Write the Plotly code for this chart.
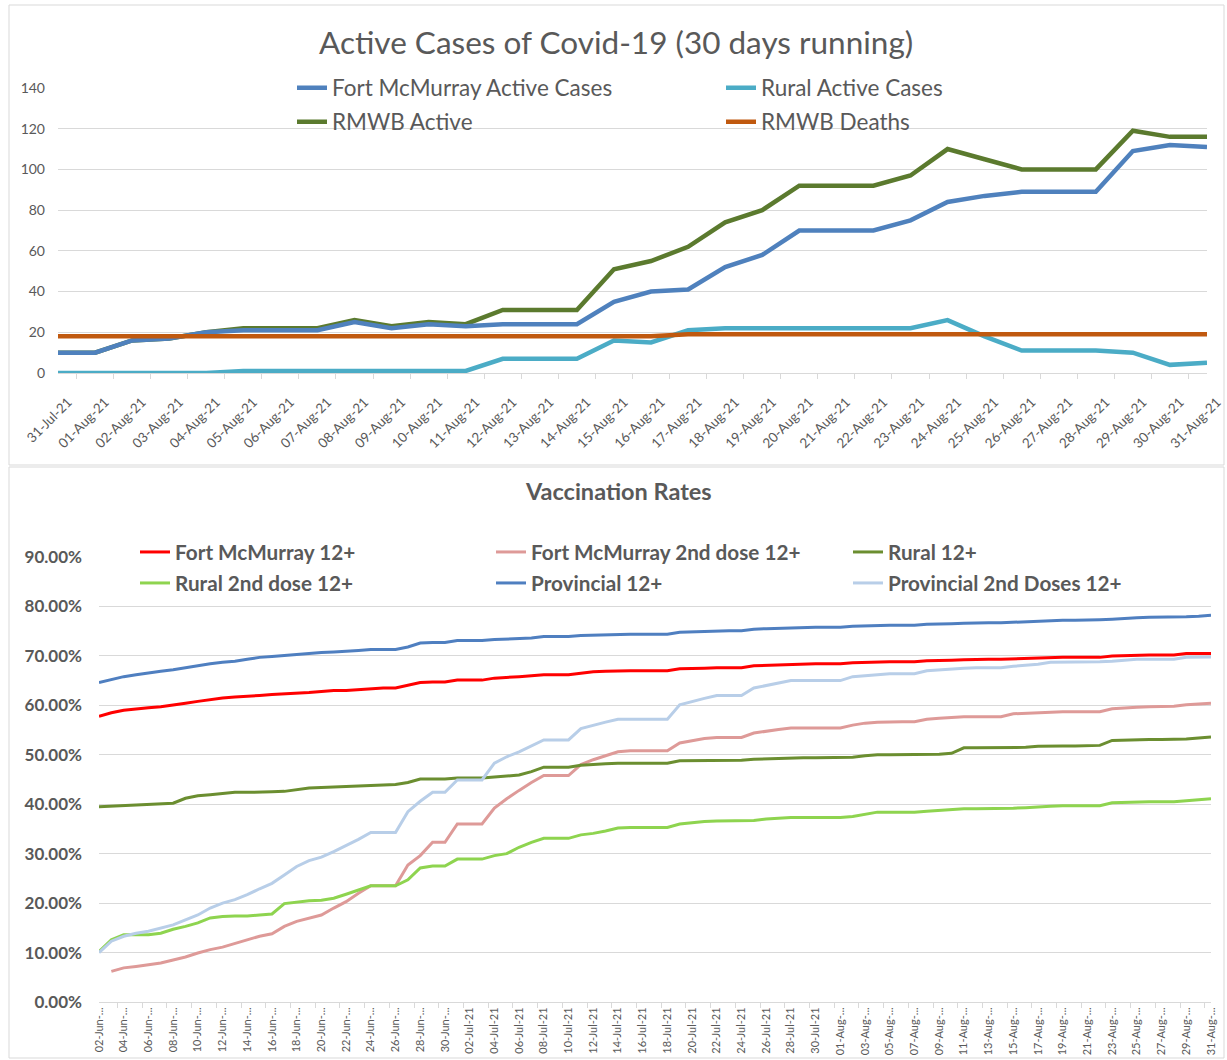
import datetime as dt
import plotly.graph_objects as go

W, H = 1227, 1060
FONT = "Lato"
GREY = "#595959"
GRID = "#D9D9D9"

# ---------------- Top chart data ----------------
top_dates = [(dt.date(2021, 7, 31) + dt.timedelta(days=k)).strftime("%d-%b-%y") for k in range(32)]
fm_active = [10, 10, 16, 17, 20, 21, 21, 21, 25, 22, 24, 23, 24, 24, 24, 35,
             40, 41, 52, 58, 70, 70, 70, 75, 84, 87, 89, 89, 89, 109, 112, 111]
rural_active = [0, 0, 0, 0, 0, 1, 1, 1, 1, 1, 1, 1, 7, 7, 7, 16,
                15, 21, 22, 22, 22, 22, 22, 22, 26, 18, 11, 11, 11, 10, 4, 5]
rmwb_active = [10, 10, 16, 17, 20, 22, 22, 22, 26, 23, 25, 24, 31, 31, 31, 51,
               55, 62, 74, 80, 92, 92, 92, 97, 110, 105, 100, 100, 100, 119, 116, 116]
rmwb_deaths = [18, 18, 18, 18, 18, 18, 18, 18, 18, 18, 18, 18, 18, 18, 18, 18,
               18, 19, 19, 19, 19, 19, 19, 19, 19, 19, 19, 19, 19, 19, 19, 19]
top_yticks = [0, 20, 40, 60, 80, 100, 120, 140]

# ---------------- Bottom chart data ----------------
vac_dates = [(dt.date(2021, 6, 2) + dt.timedelta(days=k)).strftime("%d-%b-%y") for k in range(91)]
vac_tick_dates = vac_dates[::2]
vac_tick_text = [d[:7] + "..." if ("Jun" in d or "Aug" in d) else d for d in vac_tick_dates]

prov_12 = [64.6, 65.2, 65.8, 66.2, 66.6, 66.9, 67.2, 67.6, 68.1, 68.4, 68.7, 68.9, 69.3, 69.7, 69.9, 70.1,
           70.4, 70.6, 70.7, 70.8, 70.9, 71.1, 71.3, 71.3, 71.3, 71.8, 72.6, 72.7, 72.7, 73.1, 73.1, 73.1,
           73.3, 73.4, 73.5, 73.6, 73.9, 73.9, 73.9, 74.1, 74.2, 74.3, 74.4, 74.4, 74.4, 74.4, 74.4, 74.8,
           74.9, 75.0, 75.1, 75.1, 75.1, 75.4, 75.5, 75.6, 75.7, 75.8, 75.8, 75.8, 75.8, 76.0, 76.1, 76.2,
           76.2, 76.2, 76.2, 76.4, 76.4, 76.5, 76.6, 76.7, 76.7, 76.7, 76.8, 76.9, 77.0, 77.2, 77.2, 77.2,
           77.2, 77.3, 77.4, 77.6, 77.7, 77.8, 77.8, 77.8, 77.9, 78.0, 78.2]
fm_12 = [57.8, 58.5, 59.0, 59.3, 59.5, 59.7, 60.0, 60.4, 60.8, 61.2, 61.5, 61.7, 61.8, 62.0, 62.2, 62.3,
         62.5, 62.6, 62.8, 63.0, 63.0, 63.2, 63.4, 63.5, 63.5, 64.0, 64.6, 64.7, 64.7, 65.1, 65.1, 65.1,
         65.5, 65.6, 65.8, 66.0, 66.2, 66.2, 66.2, 66.5, 66.8, 66.9, 67.0, 67.0, 67.0, 67.0, 67.0, 67.4,
         67.4, 67.5, 67.6, 67.6, 67.6, 68.0, 68.1, 68.2, 68.3, 68.4, 68.4, 68.4, 68.4, 68.6, 68.7, 68.8,
         68.8, 68.8, 68.8, 69.0, 69.0, 69.1, 69.2, 69.3, 69.3, 69.3, 69.4, 69.5, 69.6, 69.7, 69.7, 69.7,
         69.7, 69.7, 70.0, 70.1, 70.1, 70.2, 70.2, 70.2, 70.5, 70.5, 70.5]
prov_2nd = [10.0, 12.3, 13.3, 13.9, 14.3, 14.9, 15.6, 16.6, 17.6, 19.0, 20.0, 20.7, 21.7, 22.9, 24.0, 25.7,
            27.4, 28.6, 29.3, 30.4, 31.6, 32.9, 34.3, 34.3, 34.3, 38.5, 40.6, 42.4, 42.4, 44.9, 44.9, 44.9,
            48.3, 49.6, 50.6, 51.8, 53.0, 53.0, 53.0, 55.3, 56.0, 56.6, 57.2, 57.2, 57.2, 57.2, 57.2, 60.1,
            60.8, 61.4, 62.0, 62.0, 62.0, 63.5, 64.0, 64.5, 65.0, 65.0, 65.0, 65.0, 65.0, 65.8, 66.0, 66.3,
            66.4, 66.4, 66.4, 67.0, 67.2, 67.4, 67.5, 67.6, 67.6, 67.6, 67.9, 68.1, 68.3, 68.7, 68.7, 68.7,
            68.7, 68.8, 68.9, 69.1, 69.3, 69.3, 69.3, 69.3, 69.7, 69.7, 69.8]
fm_2nd = [None, 6.2, 6.9, 7.2, 7.5, 7.9, 8.5, 9.1, 9.9, 10.6, 11.1, 11.8, 12.6, 13.3, 13.8, 15.3,
          16.3, 17.0, 17.6, 19.0, 20.3, 22.0, 23.5, 23.5, 23.5, 27.7, 29.6, 32.3, 32.3, 36.0, 36.0, 36.0,
          39.2, 41.1, 42.8, 44.4, 45.8, 45.8, 45.8, 48.0, 49.0, 49.8, 50.6, 50.8, 50.8, 50.8, 50.8, 52.4,
          52.9, 53.3, 53.5, 53.5, 53.5, 54.4, 54.8, 55.1, 55.4, 55.4, 55.4, 55.4, 55.4, 56.0, 56.4, 56.6,
          56.7, 56.7, 56.7, 57.2, 57.4, 57.6, 57.7, 57.7, 57.7, 57.7, 58.3, 58.4, 58.5, 58.7, 58.7, 58.7,
          58.7, 58.7, 59.3, 59.5, 59.6, 59.7, 59.8, 59.8, 60.1, 60.2, 60.4]
rural_12 = [39.5, 39.6, 39.7, 39.8, 39.9, 40.0, 40.2, 41.2, 41.7, 41.9, 42.2, 42.4, 42.4, 42.4, 42.5, 42.6,
            43.0, 43.3, 43.4, 43.5, 43.6, 43.7, 43.9, 44.0, 44.0, 44.4, 45.1, 45.1, 45.1, 45.3, 45.3, 45.3,
            45.5, 45.7, 45.9, 46.6, 47.5, 47.5, 47.5, 47.9, 48.1, 48.2, 48.3, 48.3, 48.3, 48.3, 48.3, 48.8,
            48.8, 48.8, 48.9, 48.9, 48.9, 49.1, 49.2, 49.3, 49.4, 49.4, 49.4, 49.4, 49.4, 49.5, 49.8, 50.0,
            50.0, 50.0, 50.0, 50.0, 50.1, 50.3, 51.4, 51.4, 51.4, 51.4, 51.4, 51.5, 51.7, 51.8, 51.8, 51.8,
            51.8, 51.9, 52.9, 53.0, 53.1, 53.1, 53.1, 53.1, 53.2, 53.4, 53.6]
rural_2nd = [10.2, 12.6, 13.6, 13.6, 13.6, 13.9, 14.7, 15.3, 16.0, 17.0, 17.3, 17.4, 17.4, 17.6, 17.8, 19.9,
             20.2, 20.5, 20.6, 21.0, 21.8, 22.7, 23.5, 23.5, 23.5, 24.7, 27.1, 27.5, 27.5, 28.9, 28.9, 28.9,
             29.6, 30.0, 31.3, 32.3, 33.1, 33.1, 33.1, 33.8, 34.1, 34.6, 35.2, 35.3, 35.3, 35.3, 35.3, 36.0,
             36.3, 36.5, 36.6, 36.6, 36.6, 36.7, 37.0, 37.2, 37.3, 37.3, 37.3, 37.3, 37.3, 37.5, 38.0, 38.4,
             38.4, 38.4, 38.4, 38.6, 38.8, 39.0, 39.1, 39.1, 39.1, 39.1, 39.2, 39.3, 39.5, 39.6, 39.7, 39.7,
             39.7, 39.7, 40.3, 40.4, 40.5, 40.5, 40.5, 40.5, 40.7, 40.9, 41.1]
vac_yticks = [0, 10, 20, 30, 40, 50, 60, 70, 80, 90]


def px_x(p):
    return p / W


def px_y(p):
    return 1 - p / H


fig = go.Figure()

top_series = [
    ("Fort McMurray Active Cases", fm_active, "#4F81BD", "legend", 297, 88),
    ("Rural Active Cases", rural_active, "#4BACC6", "legend2", 726, 88),
    ("RMWB Active", rmwb_active, "#5B7A2E", "legend3", 297, 122),
    ("RMWB Deaths", rmwb_deaths, "#C0590F", "legend4", 726, 122),
]
draw_order = [2, 0, 1, 3]
for k in draw_order:
    name, vals, col, lg, _, _ = top_series[k]
    fig.add_trace(go.Scatter(x=top_dates, y=vals, name=name, mode="lines",
                             line=dict(color=col, width=4.5), xaxis="x", yaxis="y",
                             legend=lg, showlegend=True, hoverinfo="x+y+name"))

bot_series = [
    ("Fort McMurray 12+", fm_12, "#FF0000", "legend5", 140, 552),
    ("Fort McMurray 2nd dose 12+", fm_2nd, "#DE9A98", "legend6", 496, 552),
    ("Rural 12+", rural_12, "#6B8E30", "legend7", 853, 552),
    ("Rural 2nd dose 12+", rural_2nd, "#8ED44F", "legend8", 140, 583),
    ("Provincial 12+", prov_12, "#4F7FC0", "legend9", 496, 583),
    ("Provincial 2nd Doses 12+", prov_2nd, "#B8CEE8", "legend10", 853, 583),
]
for name, vals, col, lg, _, _ in bot_series:
    fig.add_trace(go.Scatter(x=vac_dates, y=[None if v is None else v / 100 for v in vals],
                             name=name, mode="lines", line=dict(color=col, width=3),
                             xaxis="x2", yaxis="y2", legend=lg, showlegend=True,
                             connectgaps=False))

legends = {}
for name, _, _, lg, lx, ly in top_series:
    legends[lg] = dict(x=px_x(lx - 5), y=px_y(ly), xanchor="left", yanchor="middle",
                       bgcolor="rgba(0,0,0,0)", borderwidth=0, visible=True,
                       font=dict(family=FONT, size=22.5, color=GREY))
for name, _, _, lg, lx, ly in bot_series:
    legends[lg] = dict(x=px_x(lx - 5), y=px_y(ly), xanchor="left", yanchor="middle",
                       bgcolor="rgba(0,0,0,0)", borderwidth=0, visible=True,
                       font=dict(family=FONT, size=20.7, color=GREY, weight="bold"))

fig.update_layout(
    width=W, height=H,
    margin=dict(l=0, r=0, t=0, b=0),
    showlegend=True,
    paper_bgcolor="white", plot_bgcolor="white",
    font=dict(family=FONT, color=GREY),
    xaxis=dict(domain=[px_x(58), px_x(1207)], anchor="y", type="category",
               tickmode="array", tickvals=top_dates, ticktext=top_dates,
               tickangle=-45, tickfont=dict(size=13.5, color=GREY),
               ticklabelshift=10, ticklabelstandoff=15, ticklabeloverflow="allow",
               showgrid=False, showline=True, linecolor=GRID, linewidth=1,
               ticks="outside", tickson="boundaries", ticklen=5, tickcolor=GRID,
               automargin=False, fixedrange=True),
    yaxis=dict(domain=[px_y(373), px_y(88)], anchor="x", range=[0, 140],
               tickvals=top_yticks, tickfont=dict(size=14, color=GREY),
               showgrid=True, gridcolor=GRID, gridwidth=1, zeroline=False,
               showline=False, ticks="", ticklabelstandoff=12, automargin=False,
               fixedrange=True),
    xaxis2=dict(domain=[px_x(99), px_x(1211)], anchor="y2", type="category",
                tickmode="array", tickvals=vac_tick_dates, ticktext=vac_tick_text,
                tickangle=-90, tickfont=dict(size=11, color=GREY),
                showgrid=False, showline=True, linecolor=GRID, linewidth=1,
                ticks="outside", tickson="boundaries", ticklen=5, tickcolor=GRID,
                automargin=False, fixedrange=True),
    yaxis2=dict(domain=[px_y(1002), px_y(557)], anchor="x2", range=[0, 0.9],
                tickvals=[v / 100 for v in vac_yticks], tickformat=".2%",
                tickfont=dict(size=17, color=GREY, weight="bold"),
                showgrid=True, gridcolor=GRID, gridwidth=1, zeroline=False,
                showline=False, ticks="", ticklabelstandoff=16, automargin=False,
                fixedrange=True),
    annotations=[
        dict(text="Active Cases of Covid-19 (30 days running)", x=px_x(616), y=px_y(42),
             xref="paper", yref="paper", xanchor="center", yanchor="middle", showarrow=False,
             font=dict(family=FONT, size=31.5, color=GREY)),
        dict(text="<b>Vaccination Rates</b>", x=px_x(618), y=px_y(491),
             xref="paper", yref="paper", xanchor="center", yanchor="middle", showarrow=False,
             font=dict(family=FONT, size=23.5, color=GREY)),
    ],
    shapes=[
        dict(type="rect", xref="paper", yref="paper", x0=px_x(9), x1=px_x(1224),
             y0=px_y(465), y1=px_y(5), line=dict(color=GRID, width=1), layer="below"),
        dict(type="rect", xref="paper", yref="paper", x0=px_x(9), x1=px_x(1224),
             y0=px_y(1058), y1=px_y(467), line=dict(color=GRID, width=1), layer="below"),
    ],
    hovermode="closest",
    **legends,
)

fig.write_html("out.html", config={"displayModeBar": False},
               post_script="document.body.style.margin='0';document.body.style.overflow='hidden';")
